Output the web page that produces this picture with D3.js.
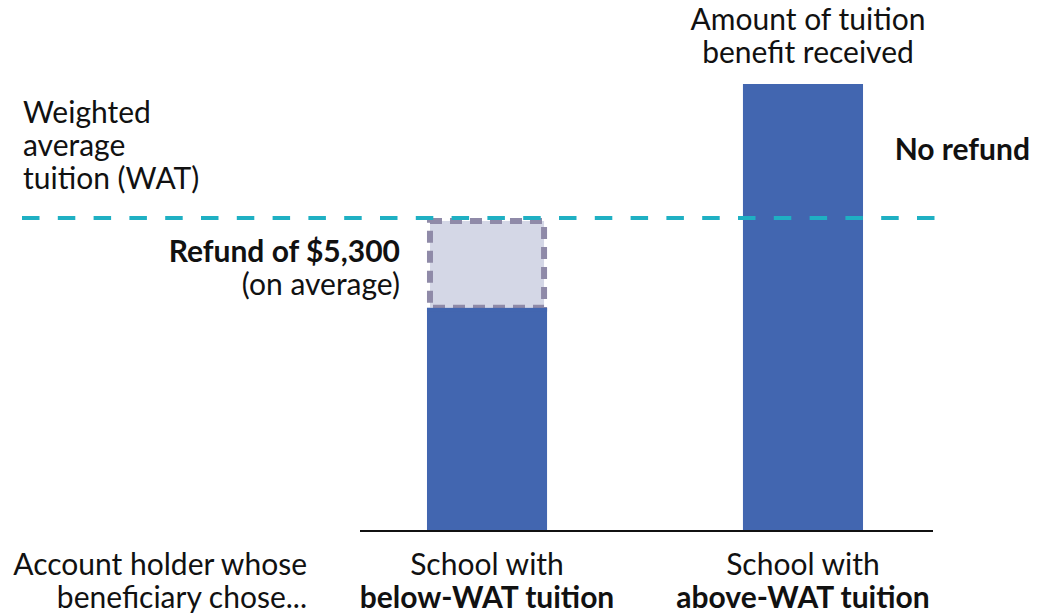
<!DOCTYPE html>
<html><head><meta charset="utf-8">
<script src="https://cdn.jsdelivr.net/npm/d3@7"></script>
<style>body{margin:0;background:#fff}text{font-family:Lato,"Open Sans",sans-serif;fill:#111}</style>
</head><body><svg id="c" width="1040" height="615"></svg>
<script>
const categories = ["below", "above"];
const categoryLine1 = ["School with", "School with"];
const categoryLine2 = ["below-WAT tuition", "above-WAT tuition"];
const benefitValues = [13100, 26300];
const refundValues = [5300, 0];
const watValue = 18400;

const svg = d3.select("#c");
const FS = 30;
const x = d3.scaleBand().domain(categories).range([360, 930]).paddingInner(0.62).paddingOuter(0.212);
const y = d3.scaleLinear().domain([0, d3.max(benefitValues)]).range([530, 84]);

// bars
svg.selectAll("rect.bar").data(categories).join("rect").attr("class","bar")
  .attr("x", d => x(d)).attr("width", x.bandwidth())
  .attr("y", (d,i) => y(benefitValues[i])).attr("height", (d,i) => y(0) - y(benefitValues[i]))
  .attr("fill", "#4266b0");

// refund box
const sw = 6;
const refundIdx = categories.map((d,i)=>i).filter(i => refundValues[i] > 0);
svg.selectAll("rect.refund").data(refundIdx).join("rect").attr("class","refund")
  .attr("x", i => x(categories[i]) + sw/2).attr("width", x.bandwidth() - sw)
  .attr("y", i => y(benefitValues[i] + refundValues[i]) + sw/2)
  .attr("height", i => y(benefitValues[i]) - y(benefitValues[i] + refundValues[i]) - sw/2)
  .attr("fill", "#d4d7e6").attr("stroke", "#8f8aa8").attr("stroke-width", sw).attr("stroke-dasharray", "12 8");
svg.selectAll("rect.cover").data(refundIdx).join("rect").attr("class","cover")
  .attr("x", i => x(categories[i])).attr("width", x.bandwidth())
  .attr("y", i => y(benefitValues[i])).attr("height", sw/2 + 1)
  .attr("fill", "#4266b0");

// WAT line
svg.append("line").attr("x1", 22).attr("x2", 937).attr("y1", y(watValue)).attr("y2", y(watValue))
  .attr("stroke", "#1fb0c3").attr("stroke-width", 4).attr("stroke-dasharray", "17.5 18.3");

// baseline
svg.append("line").attr("x1", 360).attr("x2", 933).attr("y1", y(0)+1).attr("y2", y(0)+1)
  .attr("stroke", "#111").attr("stroke-width", 2);

// multi-line text as one element with tspans
function txt(lines, xx, yy, anchor, dy) {
  const t = svg.append("text").attr("x", xx).attr("y", yy).attr("text-anchor", anchor).attr("font-size", FS);
  lines.forEach((ln, k) => {
    t.append("tspan").attr("x", xx).attr("dy", k === 0 ? 0 : dy)
      .attr("font-weight", ln.b ? 700 : 400).text(ln.s);
  });
}
categories.forEach((d,i) => {
  const cx = x(d) + x.bandwidth()/2;
  txt([{s: categoryLine1[i]}, {s: categoryLine2[i], b: true}], cx, 575, "middle", 33);
});
txt([{s: "Account holder whose"}, {s: "beneficiary chose..."}], 307, 575, "end", 33);
txt([{s: "Weighted"}, {s: "average"}, {s: "tuition (WAT)"}], 23, 123, "start", 33);
txt([{s: "Amount of tuition"}, {s: "benefit received"}], 808, 30, "middle", 33);
txt([{s: "No refund", b: true}], 1030, 160, "end", 0);
txt([{s: "Refund of $5,300", b: true}, {s: "(on average)"}], 400, 262, "end", 33);
</script></body></html>
